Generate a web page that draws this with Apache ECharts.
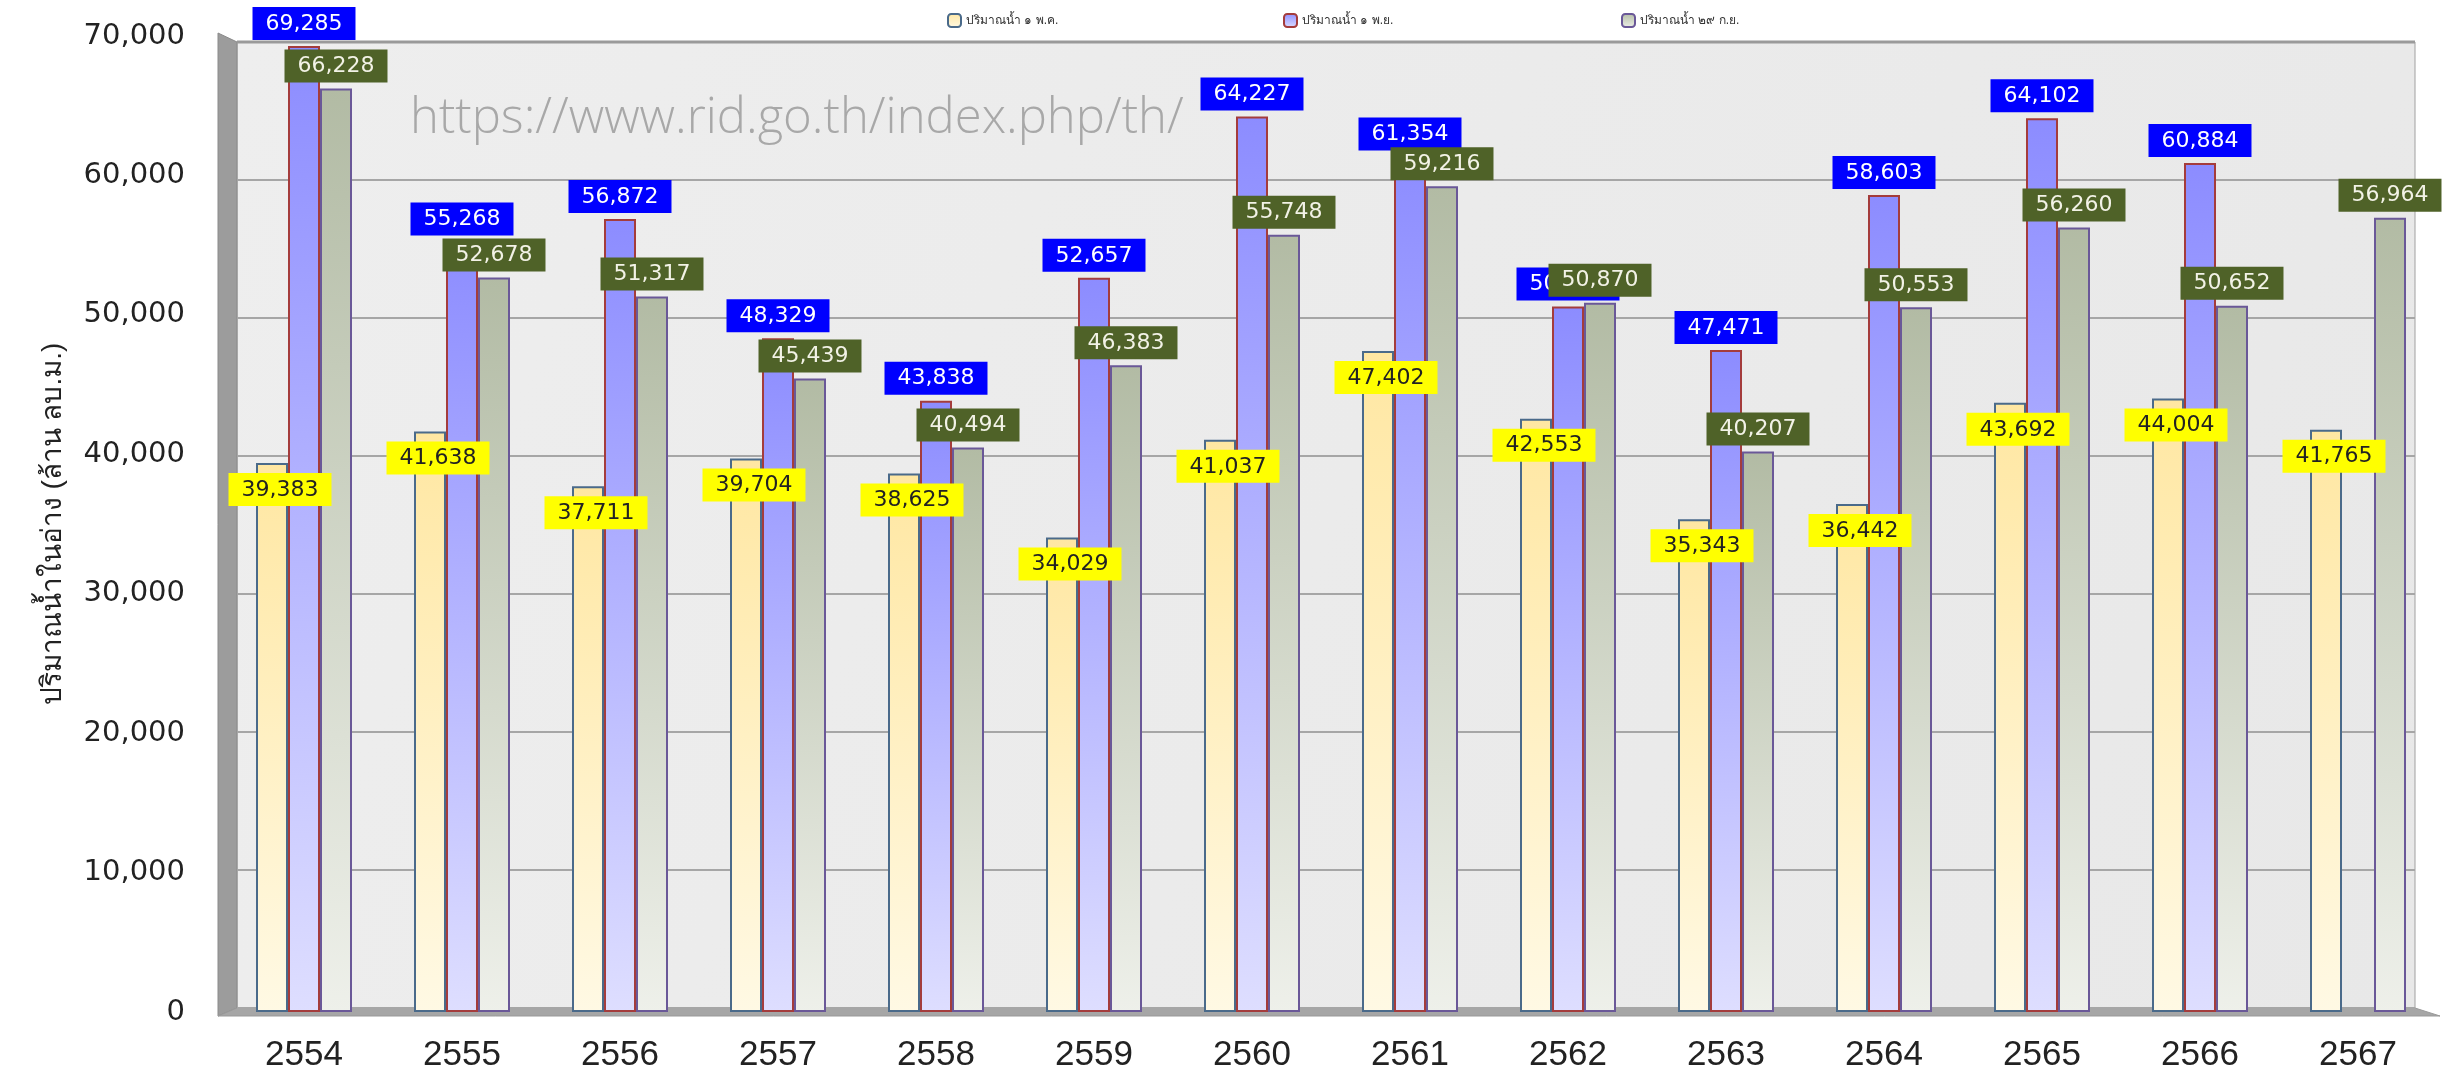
<!DOCTYPE html>
<html>
<head>
<meta charset="utf-8">
<script src="https://cdn.jsdelivr.net/npm/echarts@6/dist/echarts.min.js"></script>
<style>
html,body{margin:0;padding:0;background:#fff;}
#chart{width:2443px;height:1073px;}
</style>
</head>
<body>
<div id="chart"></div>
<script>
// ---- data ----
const years = ['2554','2555','2556','2557','2558','2559','2560','2561','2562','2563','2564','2565','2566','2567'];
const seriesNames = ['ปริมาณน้ำ ๑ พ.ค.', 'ปริมาณน้ำ ๑ พ.ย.', 'ปริมาณน้ำ ๒๙ ก.ย.'];
const volMay1 = [39383, 41638, 37711, 39704, 38625, 34029, 41037, 47402, 42553, 35343, 36442, 43692, 44004, 41765];
const volNov1 = [69285, 55268, 56872, 48329, 43838, 52657, 64227, 61354, 50595, 47471, 58603, 64102, 60884, null];
const volSep29 = [66228, 52678, 51317, 45439, 40494, 46383, 55748, 59216, 50870, 40207, 50553, 56260, 50652, 56964];
const yTitle = 'ปริมาณน้ำในอ่าง (ล้าน ลบ.ม.)';
const watermark = 'https://www.rid.go.th/index.php/th/';

// ---- chart ----
const chart = echarts.init(document.getElementById('chart'), null, {renderer: 'canvas'});
const fmt = v => v.toLocaleString('en-US');
const numFont = 'DejaVu Sans, Verdana, sans-serif';

function grad(top, bottom) {
  return new echarts.graphic.LinearGradient(0, 0, 0, 1, [
    {offset: 0, color: top}, {offset: 1, color: bottom}
  ]);
}
function lbl(bg, fg, pos, dist) {
  return {
    show: true, position: pos, distance: dist,
    formatter: p => fmt(p.value),
    backgroundColor: bg, color: fg,
    fontFamily: numFont, fontSize: 22,
    padding: [6, 13, 5, 13]
  };
}

const option = {
  backgroundColor: '#ffffff',
  animation: false,
  graphic: [
    // back wall
    {type: 'rect', z: 0, shape: {x: 237, y: 42, width: 2178, height: 966},
     style: {fill: new echarts.graphic.LinearGradient(0, 0, 1, 1, [{offset: 0, color: '#EEEEEE'}, {offset: 1, color: '#E8E8E8'}]),
             stroke: '#A0A0A0', lineWidth: 1}},
    {type: 'line', z: 1, shape: {x1: 237, y1: 42, x2: 2415, y2: 42}, style: {stroke: '#9A9A9A', lineWidth: 3}},
    // left wall
    {type: 'polygon', z: 0, shape: {points: [[218, 33], [237, 42], [237, 1008], [218, 1016]]},
     style: {fill: '#9C9C9C', stroke: '#8A8A8A', lineWidth: 1}},
    // floor
    {type: 'polygon', z: 0, shape: {points: [[218, 1016], [237, 1008], [2415, 1008], [2440, 1016]]},
     style: {fill: '#A6A6A6', stroke: '#999', lineWidth: 1}},
    {type: 'text', z: 5, left: 410, top: 95,
     style: {text: watermark, fill: '#A8A8A8', fontSize: 49, fontFamily: 'Open Sans, Lato, sans-serif', fontWeight: 300}}
  ],
  legend: [0, 1, 2].map((i) => ({
    data: [seriesNames[i]],
    left: [942, 1278, 1616][i], top: 8,
    itemWidth: 13, itemHeight: 13, itemGap: 0,
    textStyle: {fontSize: 12, color: '#333'}
  })),
  grid: [
    {left: 237, right: 28, top: 42, bottom: 65},
    {left: 225, right: 6, top: 36, bottom: 61}
  ],
  xAxis: [
    {gridIndex: 0, type: 'category', data: years, show: false},
    {gridIndex: 1, type: 'category', data: years,
     axisLine: {show: false}, axisTick: {show: false},
     axisLabel: {fontSize: 35, color: '#222', margin: 26, fontFamily: 'Liberation Sans, Arial, sans-serif'}}
  ],
  yAxis: [
    {gridIndex: 0, type: 'value', min: 0, max: 70000, interval: 10000,
     axisLabel: {show: false}, axisLine: {show: false}, axisTick: {show: false},
     splitLine: {show: true, lineStyle: {color: '#A6A6A6', width: 2}}},
    {gridIndex: 1, type: 'value', min: 0, max: 70000, interval: 10000,
     splitLine: {show: false}, axisLine: {show: false}, axisTick: {show: false},
     axisLabel: {fontSize: 29, color: '#222', margin: 40, fontFamily: numFont, formatter: v => fmt(v)},
     name: yTitle, nameLocation: 'middle', nameRotate: 90, nameGap: 158,
     nameTextStyle: {fontSize: 28, color: '#222'}}
  ],
  series: [
    {name: seriesNames[0], type: 'bar', xAxisIndex: 1, yAxisIndex: 1, data: volMay1,
     barWidth: 32, barGap: '0%', z: 3,
     itemStyle: {color: grad('#FFE7A2', '#FFF9E4'), borderColor: '#4A6A8A', borderWidth: 2},
     label: Object.assign(lbl('#FFFF00', '#222', 'insideTop', 10), {offset: [8, 0]})},
    {name: seriesNames[1], type: 'bar', xAxisIndex: 1, yAxisIndex: 1, data: volNov1,
     barWidth: 32, barGap: '0%', z: 3,
     itemStyle: {color: grad('#8C8CFF', '#DEDEFF'), borderColor: '#A43C3C', borderWidth: 2},
     label: lbl('#0000FF', '#FFFFFF', 'top', 6)},
    {name: seriesNames[2], type: 'bar', xAxisIndex: 1, yAxisIndex: 1, data: volSep29,
     barWidth: 32, barGap: '0%', z: 3,
     itemStyle: {color: grad('#B2BBA4', '#EEF0EA'), borderColor: '#6A5898', borderWidth: 2},
     label: lbl('#4F6228', '#F2F2E6', 'top', 6)}
  ]
};
chart.setOption(option);
</script>
</body>
</html>
